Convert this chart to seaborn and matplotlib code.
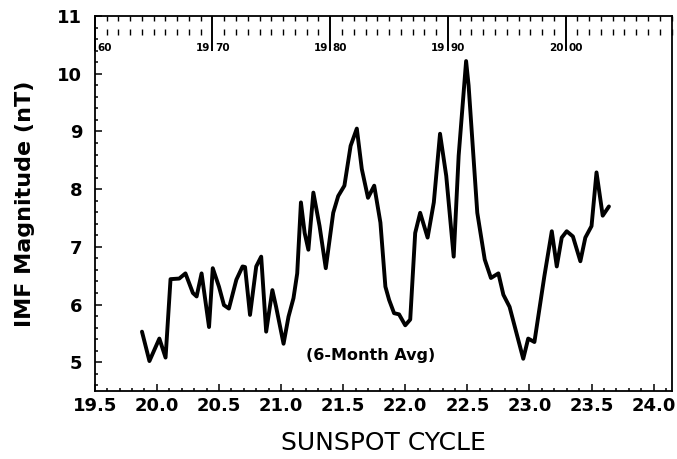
import matplotlib
matplotlib.use('Agg')
import matplotlib.pyplot as plt
import matplotlib.transforms as mtransforms
from matplotlib.ticker import MultipleLocator, NullFormatter
import seaborn as sns
import pandas as pd

# sunspot cycle (x) and 6-month averaged IMF magnitude (nT)
cycle = [19.88, 19.94, 20.02, 20.07, 20.11, 20.18, 20.23, 20.29, 20.32, 20.36,
         20.42, 20.45, 20.50, 20.54, 20.58, 20.64, 20.69, 20.71, 20.75, 20.80,
         20.84, 20.88, 20.93, 20.96, 21.02, 21.06, 21.10, 21.13, 21.16, 21.19,
         21.22, 21.26, 21.31, 21.36, 21.42, 21.46, 21.51, 21.56, 21.61, 21.65,
         21.70, 21.75, 21.80, 21.84, 21.87, 21.91, 21.95, 22.00, 22.04, 22.08,
         22.12, 22.18, 22.23, 22.28, 22.33, 22.39, 22.43, 22.49, 22.51, 22.58,
         22.64, 22.69, 22.75, 22.79, 22.84, 22.95, 22.99, 23.04, 23.12, 23.18,
         23.22, 23.26, 23.30, 23.35, 23.41, 23.45, 23.50, 23.54, 23.59, 23.64]
imf = [5.53, 5.02, 5.41, 5.08, 6.44, 6.45, 6.54, 6.20, 6.14, 6.54,
       5.61, 6.63, 6.31, 5.99, 5.93, 6.43, 6.66, 6.65, 5.82, 6.66,
       6.83, 5.53, 6.25, 5.96, 5.32, 5.79, 6.11, 6.54, 7.77, 7.24,
       6.95, 7.94, 7.36, 6.63, 7.59, 7.88, 8.06, 8.75, 9.05, 8.35,
       7.85, 8.06, 7.42, 6.31, 6.08, 5.85, 5.83, 5.64, 5.74, 7.24,
       7.59, 7.16, 7.77, 8.96, 8.23, 6.83, 8.58, 10.22, 9.80, 7.59,
       6.78, 6.46, 6.54, 6.17, 5.96, 5.06, 5.41, 5.35, 6.49, 7.27,
       6.66, 7.16, 7.27, 7.18, 6.75, 7.16, 7.36, 8.29, 7.54, 7.70]

decades = [1960, 1970, 1980, 1990, 2000]

df = pd.DataFrame({'cycle': cycle, 'imf': imf})

sns.set_style('ticks')
plt.rcParams['font.family'] = ['DejaVu Sans']
plt.rcParams.update({'text.color': 'black', 'axes.labelcolor': 'black',
                     'xtick.color': 'black', 'ytick.color': 'black',
                     'axes.edgecolor': 'black'})

# cycle <-> calendar year (top axis)
def c2y(c):
    return 1960 + (c - 19.5) * 10.55

def y2c(y):
    return 19.5 + (y - 1960) / 10.55

fig = plt.figure(figsize=(6.77, 4.59), dpi=100)
ax = fig.add_axes([0.140, 0.148, 0.853, 0.817])

sns.lineplot(data=df, x='cycle', y='imf', color='black', linewidth=2.8,
             estimator=None, ax=ax)

ax.set_xlim(19.5, 24.15)
ax.set_ylim(4.5, 11)
ax.xaxis.set_major_locator(MultipleLocator(0.5))
ax.xaxis.set_minor_locator(MultipleLocator(0.1))
ax.yaxis.set_major_locator(MultipleLocator(1))
ax.yaxis.set_minor_locator(MultipleLocator(0.2))
ax.xaxis.set_major_formatter(plt.FuncFormatter(lambda v, p: f'{v:.1f}'))
ax.tick_params(which='both', direction='in', top=False, right=False,
               width=1.1, labelsize=13)
ax.tick_params(which='major', length=5)
ax.tick_params(which='minor', length=2.5)
ax.tick_params(axis='y', pad=9)
ax.tick_params(axis='x', pad=4)
for lab in ax.get_xticklabels() + ax.get_yticklabels():
    lab.set_fontweight('bold')
for s in ax.spines.values():
    s.set_linewidth(1.3)
ax.spines['top'].set_visible(False)

ax.set_xlabel('SUNSPOT CYCLE', fontsize=18, labelpad=12)
ax.set_ylabel('IMF Magnitude (nT)', fontsize=16, fontweight='bold', labelpad=16)

# top calendar-year axis
sec = ax.secondary_xaxis('top', functions=(c2y, y2c))
sec.xaxis.set_major_locator(MultipleLocator(10))
sec.xaxis.set_minor_locator(MultipleLocator(1))
sec.xaxis.set_major_formatter(NullFormatter())
sec.tick_params(which='major', direction='in', length=25, width=1.4)
sec.tick_params(which='minor', direction='in', length=3.5, width=1)
sec.spines['top'].set_linewidth(1.3)

sec2 = ax.secondary_xaxis(0.957, functions=(c2y, y2c))
sec2.xaxis.set_major_locator(MultipleLocator(10))
sec2.xaxis.set_minor_locator(MultipleLocator(1))
sec2.xaxis.set_major_formatter(NullFormatter())
sec2.tick_params(which='major', length=0)
sec2.tick_params(which='minor', direction='inout', length=5, width=1)
for s in sec2.spines.values():
    s.set_visible(False)

trans = mtransforms.blended_transform_factory(ax.transData, ax.transAxes)
for d in decades:
    c = y2c(d)
    ax.text(c + 0.02, 0.915, str(d)[2:], transform=trans, ha='left',
            va='center', fontsize=7.5, fontweight='bold')
    if d > 1960:
        ax.text(c - 0.02, 0.915, str(d)[:2], transform=trans, ha='right',
                va='center', fontsize=7.5, fontweight='bold')

ax.text(21.72, 5.12, '(6-Month Avg)', ha='center', va='center',
        fontsize=11.5, fontweight='bold')

plt.savefig('out.png', dpi=100)
